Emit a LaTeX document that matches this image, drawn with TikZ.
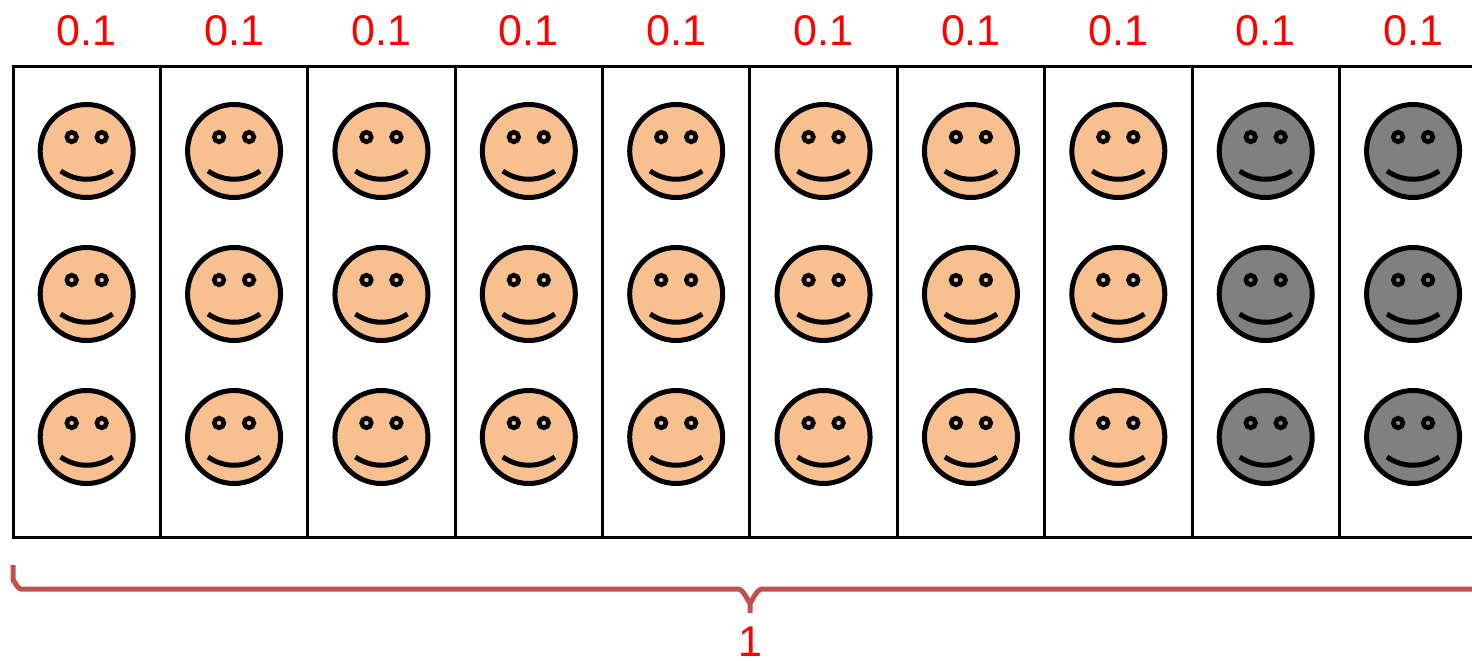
\documentclass[tikz,border=0pt]{standalone}
\usepackage{fontspec}
\setmainfont{Liberation Sans}
\definecolor{skin}{RGB}{249,192,143}
\definecolor{shade}{RGB}{128,128,128}
\definecolor{bracered}{RGB}{192,80,77}
\definecolor{labelred}{RGB}{255,0,0}
\tikzset{
  cellline/.style={line width=3pt, draw=black},
  faceline/.style={line width=5pt, draw=black},
  eyeline/.style={line width=4.6pt, draw=black},
  mouthline/.style={line width=5pt, draw=black, line cap=butt},
  bracestroke/.style={line width=5pt, draw=bracered, line join=round},
  toplabel/.style={text=labelred, font=\fontsize{43}{50}\selectfont, anchor=base, inner sep=0pt},
}
\begin{document}
\begin{tikzpicture}[x=1pt,y=-1pt]
\useasboundingbox (0,0) rectangle (1472,661);
\clip (0,0) rectangle (1472,661);
\pgfmathsetmacro{\cw}{147.375}
% cells
\draw[cellline] (13,67) rectangle (1486.75,537);
\foreach \k in {1,...,9} {
  \draw[cellline] ({13+\k*\cw},67) -- ({13+\k*\cw},537);
}
% faces
\foreach \k in {0,...,9} {
  \pgfmathsetmacro{\cx}{13+(\k+0.5)*\cw}
  \ifnum\k>7 \def\fc{shade}\else\def\fc{skin}\fi
  \foreach \cy in {151,294,437} {
    \draw[faceline, fill=\fc] (\cx,\cy) circle[radius=46.5];
    \draw[eyeline, fill=\fc] ({\cx-15},{\cy-14}) circle[radius=4.8];
    \draw[eyeline, fill=\fc] ({\cx+15},{\cy-14}) circle[radius=4.8];
    \draw[mouthline] ({\cx-26},{\cy+20}) .. controls ({\cx-10},{\cy+31}) and ({\cx+10},{\cy+31}) .. ({\cx+26},{\cy+20});
  }
  \node[toplabel] (lab\k) at (\cx,46) {0.1};
}
% brace
\coordinate (bl) at (13,565);
\coordinate (bm) at (750,613);
\coordinate (br) at (1486.75,565);
\draw[bracestroke] (bl) -- (13,581) to[out=90,in=180] (21,589) -- (738,589) to[out=0,in=-90] (750,601) -- (bm);
\draw[bracestroke] (750,601) to[out=-90,in=180] (762,589) -- (1478.75,589) to[out=0,in=90] (1486.75,581) -- (br);
\node[toplabel] (total) at (750,656) {1};
\end{tikzpicture}
\end{document}
